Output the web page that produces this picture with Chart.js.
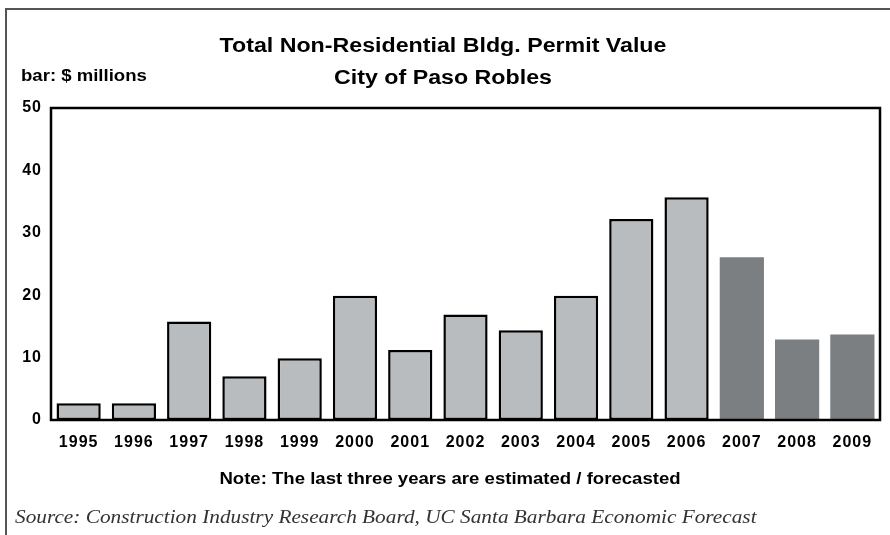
<!DOCTYPE html>
<html>
<head>
<meta charset="utf-8">
<script src="https://cdn.jsdelivr.net/npm/chart.js@4.4.1/dist/chart.umd.min.js"></script>
<style>
  html, body { margin: 0; padding: 0; background: #fff; }
  #wrap { position: relative; width: 890px; height: 535px; overflow: hidden; font-family: Arial, "Liberation Sans", Helvetica, sans-serif; }
  #frame { position: absolute; left: 5px; top: 8px; width: 900px; height: 600px; border-left: 2px solid #555; border-top: 2px solid #555; }
  canvas { position: absolute; left: 0; top: 0; }
  .txt { position: absolute; white-space: nowrap; color: #000; font-weight: bold; }
  #title { left: 0; width: 886px; top: 29px; text-align: center; font-size: 20px; line-height: 32px; transform: scaleX(1.16); transform-origin: 443px 0; }
  #unit { left: 21px; top: 67px; font-size: 16px; transform: scaleX(1.16); transform-origin: 0 0; }
  #note { left: 0; width: 900px; top: 470px; text-align: center; font-size: 16px; transform: scaleX(1.16); transform-origin: 450px 0; }
  #source { left: 15px; top: 506px; font-family: "Liberation Serif", "Times New Roman", serif; font-style: italic; font-weight: normal; font-size: 19px; color: #333; transform: scaleX(1.12); transform-origin: 0 0; }
</style>
</head>
<body>
<div id="wrap">
  <div id="frame"></div>
  <canvas id="chart" width="890" height="535"></canvas>
  <div class="txt" id="title">Total Non-Residential Bldg. Permit Value<br>City of Paso Robles</div>
  <div class="txt" id="unit">bar: $ millions</div>
  <div class="txt" id="note">Note: The last three years are estimated / forecasted</div>
  <div class="txt" id="source">Source: Construction Industry Research Board, UC Santa Barbara Economic Forecast</div>
</div>
<script>
// values, $ millions
const years = ['1995', '1996', '1997', '1998', '1999', '2000', '2001', '2002',
               '2003', '2004', '2005', '2006', '2007', '2008', '2009'];
const permitValue = [2.7, 2.7, 15.8, 7.0, 9.9, 19.9, 11.2, 16.9, 14.4, 19.9, 32.2, 35.7, 26.1, 12.9, 13.7];
const forecastYears = ['2007', '2008', '2009'];
const yTicks = [0, 10, 20, 30, 40, 50];

const isForecast = years.map(y => forecastYears.includes(y));

// the reference lettering is a bit wide, so space the tick labels out
const wideText = {
  id: 'wideText',
  beforeDraw(chart) {
    chart.ctx.letterSpacing = '1px';
  },
};

// black box around the plot area
const plotBox = {
  id: 'plotBox',
  afterDatasetsDraw(chart) {
    const { ctx, chartArea: a } = chart;
    ctx.save();
    ctx.strokeStyle = '#000';
    ctx.lineWidth = 2.5;
    ctx.strokeRect(a.left, a.top, a.right - a.left, a.bottom - a.top);
    ctx.restore();
  },
};

new Chart(document.getElementById('chart'), {
  type: 'bar',
  data: {
    labels: years,
    datasets: [{
      data: permitValue,
      backgroundColor: isForecast.map(f => f ? '#7b7f82' : '#b8bcbf'),
      borderColor: '#000',
      borderWidth: isForecast.map(f => f ? 0 : 2.5),
      borderSkipped: false,
      barPercentage: 0.8,
      categoryPercentage: 1.0,
    }],
  },
  options: {
    responsive: false,
    animation: false,
    layout: { padding: { left: 0, top: 108, right: 10, bottom: 0 } },
    plugins: {
      legend: { display: false },
      tooltip: { enabled: false },
    },
    scales: {
      x: {
        grid: { display: false, drawTicks: false },
        border: { display: false },
        ticks: { color: '#000', padding: 13, maxRotation: 0, font: { family: 'Arial', size: 16, weight: 'bold' } },
        afterFit(scale) { scale.height = 115; },
      },
      y: {
        min: 0,
        max: 50,
        grid: { display: false, drawTicks: false },
        border: { display: false },
        afterBuildTicks(scale) { scale.ticks = yTicks.map(v => ({ value: v })); },
        ticks: { color: '#000', padding: 9, font: { family: 'Arial', size: 16, weight: 'bold' } },
        afterFit(scale) { scale.width = 51; },
      },
    },
  },
  plugins: [wideText, plotBox],
});
</script>
</body>
</html>
